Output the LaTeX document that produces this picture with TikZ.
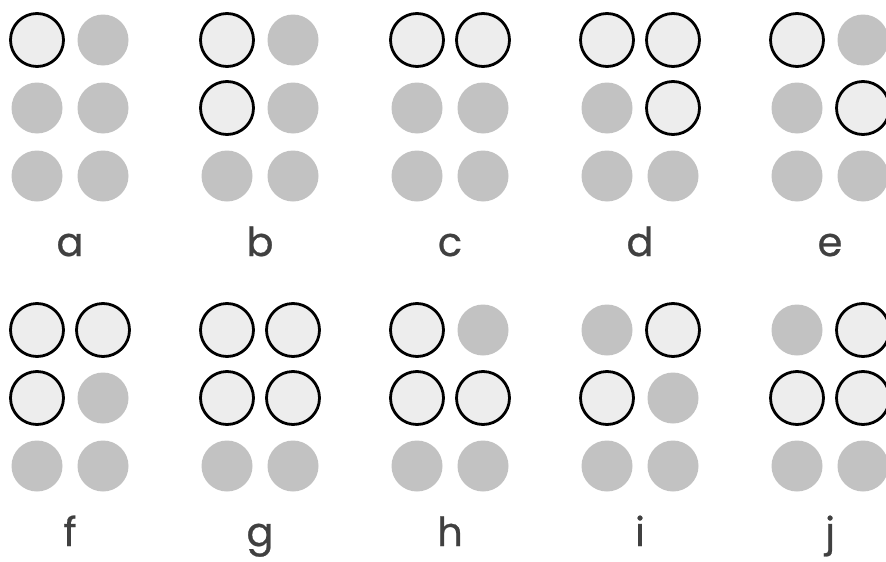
\documentclass[tikz,border=0pt]{standalone}
\usepackage{fontspec}
\newfontfamily\labelfont[FakeBold=0.6]{Poppins}

\begin{document}
\begin{tikzpicture}[x=1pt,y=-1pt,
  flat/.style={circle,fill=black!24,minimum size=51pt,inner sep=0pt},
  raised/.style={circle,draw=black,line width=2.8pt,fill=black!7,minimum size=53pt,inner sep=0pt},
  brletter/.style={anchor=base,inner sep=0pt,text=black!75,font=\labelfont\fontsize{40}{40}\selectfont}]
\useasboundingbox (0,0) rectangle (886,562);
\clip (0,0) rectangle (886,562);
% one cell per letter, dots 1-3 down the left column and 4-6 down the right
\foreach \ch/\cx/\cy/\pat in {a/37/40/{1,0,0,0,0,0}, b/227/40/{1,1,0,0,0,0},
    c/417/40/{1,0,0,1,0,0}, d/607/40/{1,0,0,1,1,0}, e/797/40/{1,0,0,0,1,0},
    f/37/330/{1,1,0,1,0,0}, g/227/330/{1,1,0,1,1,0}, h/417/330/{1,1,0,0,1,0},
    i/607/330/{0,1,0,1,0,0}, j/797/330/{0,1,0,1,1,0}} {
  \foreach \v [count=\d] in \pat {
    \pgfmathtruncatemacro\col{(\d-1)/3}
    \pgfmathtruncatemacro\row{mod(\d-1,3)}
    \ifnum\v=1 \def\st{raised}\else\def\st{flat}\fi
    \node[\st] (\ch\d) at (\cx+66*\col,\cy+68*\row) {};
  }
  \node[brletter] (lab\ch) at (\cx+33,\cy+216) {\ch};
}
\end{tikzpicture}
\end{document}
